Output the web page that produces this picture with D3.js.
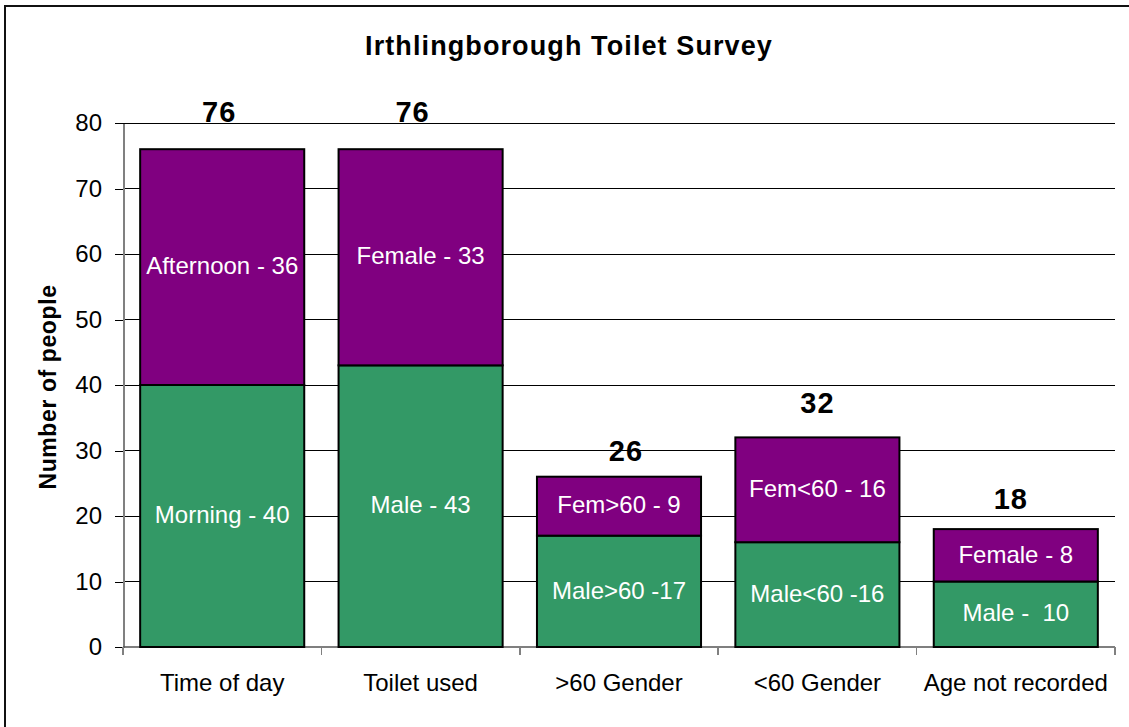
<!DOCTYPE html>
<html>
<head>
<meta charset="utf-8">
<script src="https://cdn.jsdelivr.net/npm/d3@7"></script>
<style>
  body { margin: 0; background: #fff; }
  text { font-family: "Liberation Sans", Arial, sans-serif; }
</style>
</head>
<body>
<div id="chart"></div>
<script>
// Survey data
const categories = ["Time of day", "Toilet used", ">60 Gender", "<60 Gender", "Age not recorded"];
const lowerValues = [40, 43, 17, 16, 10];
const upperValues = [36, 33, 9, 16, 8];
const lowerLabels = ["Morning - 40", "Male - 43", "Male>60 -17", "Male<60 -16", "Male -  10"];
const upperLabels = ["Afternoon - 36", "Female - 33", "Fem>60 - 9", "Fem<60 - 16", "Female - 8"];
const yTicks = [0, 10, 20, 30, 40, 50, 60, 70, 80];

// small nudges for the hand-placed total labels (px)
const totalNudgeX = [-3, -8, 7, 0, -5];
const totalNudgeY = [27, 27, 16, 24, 20];

const W = 1129, H = 727;
const plot = { left: 123, right: 1115, top: 123, bottom: 647 };

const svg = d3.select("#chart").append("svg")
    .attr("width", W)
    .attr("height", H);

// outer frame (right and bottom edges run off the page)
svg.append("rect")
    .attr("x", 5).attr("y", 6)
    .attr("width", 1140).attr("height", 740)
    .attr("fill", "none")
    .attr("stroke", "#111")
    .attr("stroke-width", 2);

const dataset = categories.map((c, i) => ({
    cat: c,
    lower: lowerValues[i],
    upper: upperValues[i],
    total: lowerValues[i] + upperValues[i],
    lowerLabel: lowerLabels[i],
    upperLabel: upperLabels[i],
    i: i
}));

const y = d3.scaleLinear().domain([0, 80]).range([plot.bottom, plot.top]);
const xCat = d3.scaleBand().domain(categories).range([plot.left, plot.right]).padding(0);
const xBar = d3.scaleBand().domain(categories).range([plot.left, plot.right])
    .paddingInner(0.173).paddingOuter(0.0865);

// gridlines
svg.append("g")
   .attr("shape-rendering", "crispEdges")
   .selectAll("line")
   .data(yTicks.filter(d => d > 0))
   .enter().append("line")
   .attr("x1", plot.left).attr("x2", plot.right)
   .attr("y1", d => y(d)).attr("y2", d => y(d))
   .attr("stroke", "#000")
   .attr("stroke-width", 1);

// y axis
const yAxis = svg.append("g")
   .attr("transform", `translate(${plot.left},0)`)
   .attr("shape-rendering", "crispEdges")
   .call(d3.axisLeft(y).tickValues(yTicks).tickSize(8).tickSizeOuter(0).tickPadding(13));
yAxis.select(".domain").attr("stroke", "#808080").attr("stroke-width", 2);
yAxis.selectAll(".tick line").attr("stroke", "#000");
yAxis.selectAll(".tick text")
   .style("font-size", "24px")
   .style("font-family", "Liberation Sans, Arial, sans-serif")
   .attr("fill", "#000");

// x axis baseline + category boundary ticks
svg.append("line")
   .attr("x1", plot.left).attr("x2", plot.right)
   .attr("y1", y(0)).attr("y2", y(0))
   .attr("stroke", "#555").attr("stroke-width", 1.5);

const bounds = categories.map(c => xCat(c)).concat([xCat(categories[categories.length - 1]) + xCat.bandwidth()]);
svg.append("g")
   .attr("shape-rendering", "crispEdges")
   .selectAll("line")
   .data(bounds)
   .enter().append("line")
   .attr("x1", d => d).attr("x2", d => d)
   .attr("y1", y(0)).attr("y2", y(0) + 8)
   .attr("stroke", "#808080").attr("stroke-width", 1.5);

const xAxis = svg.append("g")
   .attr("transform", `translate(0,${y(0)})`)
   .call(d3.axisBottom(xCat).tickSize(0).tickPadding(27));
xAxis.select(".domain").remove();
xAxis.selectAll(".tick text")
   .style("font-size", "24px")
   .style("font-family", "Liberation Sans, Arial, sans-serif")
   .attr("fill", "#000");

// bars: lower (green) and upper (purple) segments
const green = "#339966", purple = "#800080";

svg.selectAll(".bar-lower")
   .data(dataset)
   .enter().append("rect")
   .attr("class", "bar-lower")
   .attr("x", d => xBar(d.cat))
   .attr("width", xBar.bandwidth())
   .attr("y", d => y(d.lower))
   .attr("height", d => y(0) - y(d.lower))
   .attr("fill", green)
   .attr("stroke", "#000")
   .attr("stroke-width", 2);

svg.selectAll(".bar-upper")
   .data(dataset)
   .enter().append("rect")
   .attr("class", "bar-upper")
   .attr("x", d => xBar(d.cat))
   .attr("width", xBar.bandwidth())
   .attr("y", d => y(d.total))
   .attr("height", d => y(d.lower) - y(d.total))
   .attr("fill", purple)
   .attr("stroke", "#000")
   .attr("stroke-width", 2);

// segment labels
svg.selectAll(".lbl-lower")
   .data(dataset)
   .enter().append("text")
   .attr("class", "lbl-lower")
   .attr("x", d => xBar(d.cat) + xBar.bandwidth() / 2)
   .attr("y", d => (y(0) + y(d.lower)) / 2)
   .attr("dy", "0.3em")
   .attr("text-anchor", "middle")
   .style("white-space", "pre")
   .style("font-size", "24px")
   .attr("fill", "#fff")
   .text(d => d.lowerLabel);

svg.selectAll(".lbl-upper")
   .data(dataset)
   .enter().append("text")
   .attr("class", "lbl-upper")
   .attr("x", d => xBar(d.cat) + xBar.bandwidth() / 2)
   .attr("y", d => (y(d.lower) + y(d.total)) / 2)
   .attr("dy", "0.3em")
   .attr("text-anchor", "middle")
   .style("white-space", "pre")
   .style("font-size", "24px")
   .attr("fill", "#fff")
   .text(d => d.upperLabel);

// totals above bars
svg.selectAll(".lbl-total")
   .data(dataset)
   .enter().append("text")
   .attr("class", "lbl-total")
   .attr("x", d => xBar(d.cat) + xBar.bandwidth() / 2 + totalNudgeX[d.i])
   .attr("y", d => y(d.total) - totalNudgeY[d.i])
   .attr("text-anchor", "middle")
   .style("font-size", "29px")
   .style("font-weight", "bold")
   .style("letter-spacing", "1px")
   .attr("fill", "#000")
   .text(d => d.total);

// title
svg.append("text")
   .attr("x", 569)
   .attr("y", 55)
   .attr("text-anchor", "middle")
   .style("font-size", "27px")
   .style("font-weight", "bold")
   .style("letter-spacing", "1.1px")
   .attr("fill", "#000")
   .text("Irthlingborough Toilet Survey");

// y axis title
svg.append("text")
   .attr("transform", `translate(56, ${(plot.top + plot.bottom) / 2 + 2}) rotate(-90)`)
   .attr("text-anchor", "middle")
   .style("font-size", "23px")
   .style("font-weight", "bold")
   .style("letter-spacing", "0.6px")
   .attr("fill", "#000")
   .text("Number of people");
</script>
</body>
</html>
